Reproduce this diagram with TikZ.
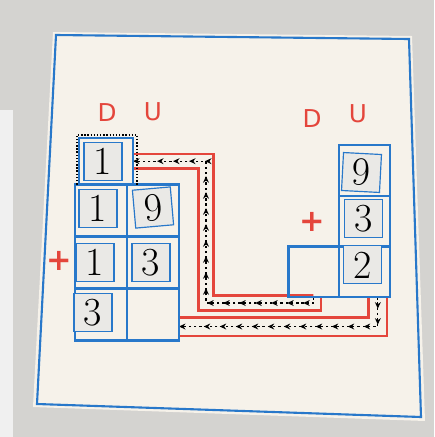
\documentclass[tikz,border=0pt]{standalone}
\usepackage{fontspec}
\newfontfamily\markerfont{DejaVu Sans}
\usetikzlibrary{positioning,arrows.meta,decorations.markings,backgrounds}

\definecolor{penblue}{RGB}{40,120,202}
\definecolor{penred}{RGB}{228,70,60}
\definecolor{paper}{RGB}{246,242,234}
\definecolor{desk}{RGB}{212,211,208}
\definecolor{card}{RGB}{234,233,230}

\begin{document}
\begin{tikzpicture}[
    x=0.03cm, y=-0.03cm,
    cell/.style={
        rectangle,
        draw=penblue,
        line width=1.8pt,
        minimum width=1.56cm,
        minimum height=1.56cm,
        inner sep=0pt,
        outer sep=0pt
    },
    cellR/.style={
        cell,
        minimum width=1.52cm,
        minimum height=1.52cm
    },
    tile/.style={
        rectangle,
        draw=penblue,
        line width=1pt,
        fill=card,
        minimum size=1.14cm,
        inner sep=0pt,
        font=\fontsize{34}{34}\selectfont
    },
    place/.style={
        text=penred,
        inner sep=0pt,
        font=\markerfont\fontsize{21}{21}\selectfont
    },
    plus/.style={
        text=penred,
        inner sep=0pt,
        font=\markerfont\bfseries\fontsize{26}{26}\selectfont
    },
    track/.style={
        draw=penred,
        line width=2.2pt,
        double=paper,
        double distance=0.36cm
    },
    flow/.style={
        black,
        line width=0.9pt,
        dash pattern=on 2pt off 2.5pt,
        -{Stealth[length=5.5pt,width=5pt]},
        postaction={decorate},
        decoration={markings,
            mark=between positions 0.05 and 0.95 step 0.48cm
            with {\arrow{Stealth[length=5.5pt,width=5pt]}}}
    },
    carrybox/.style={
        black,
        line width=1.3pt,
        dash pattern=on 1.2pt off 1.5pt
    }
]

\useasboundingbox (0,0) rectangle (434,437);

% photo background and the sheet
\begin{scope}[on background layer]
\fill[desk] (0,0) rectangle (434,437);
\fill[gray!12] (0,110) rectangle (13,437);
\fill[paper] (53,32) -- (412,36) -- (425,421) -- (33,407) -- cycle;
\draw[penblue, line width=1.8pt] (56,35) -- (409,39) -- (421,417) -- (37,404) -- cycle;
\end{scope}

% left block: D U columns
\node[cell] (d1) at (101,210.5) {};
\node[cell, right=0pt of d1] (u1) {};
\node[cell, below=0pt of d1] (d2) {};
\node[cell, right=0pt of d2] (u2) {};
\node[cell, below=0pt of d2] (dsum) {};
\node[cell, right=0pt of dsum] (usum) {};
\node[cell, minimum width=1.62cm, minimum height=1.4cm,
      above=0pt of d1, xshift=0.15cm] (carry) {};

% right block
\node[cellR] (u9) at (364.5,170.5) {};
\node[cellR, below=0pt of u9] (u3) {};
\node[cellR, below=0pt of u3] (rsumu) {};
\node[cellR, left=0pt of rsumu] (rsumd) {};

% digit cards
\node[tile] (t-carry) at ([shift={(-3,0)}]carry) {1};
\node[tile] (t-d1) at ([shift={(-3,-2)}]d1) {1};
\node[tile, rotate=5] (t-u1) at ([shift={(0,-3)}]u1) {9};
\node[tile] (t-d2) at ([shift={(-6,0)}]d2) {1};
\node[tile] (t-u2) at ([shift={(-2,0)}]u2) {3};
\node[tile] (t-dsum) at ([shift={(-8,-2)}]dsum) {3};
\node[tile, rotate=-3] (t-u9) at ([shift={(-3,2)}]u9) {9};
\node[tile] (t-u3) at ([shift={(-1,-3)}]u3) {3};
\node[tile] (t-rsumu) at ([shift={(-2,-7)}]rsumu) {2};

% column heads and signs
\node[place] (hd1) at (107,113) {D};
\node[place] (hu1) at (153,112) {U};
\node[place] (hd2) at (312,119) {D};
\node[place] (hu2) at (358,114) {U};
\node[plus] (sign1) at (59,261) {+};
\node[plus] (sign2) at (312,222) {+};

\draw[carrybox] ([shift={(-2,0)}]carry.south west)
    |- ([shift={(4,-3)}]carry.north east)
    -- ([shift={(4,0)}]carry.south east);

% carry and units tracks
\coordinate (bendA) at (206,303);
\begin{scope}[on background layer]
\draw[track] (rsumd.south) |- (bendA) |- (carry.east);
\draw[track, double distance=0.48cm] ([xshift=0.4cm]rsumu.south)
    |- ([yshift=-0.36cm]usum.east);
\draw[flow] (rsumd.south) |- (bendA) |- (carry.east);
\draw[flow] ([xshift=0.4cm]rsumu.south) |- ([yshift=-0.36cm]usum.east);
\end{scope}

\end{tikzpicture}
\end{document}
